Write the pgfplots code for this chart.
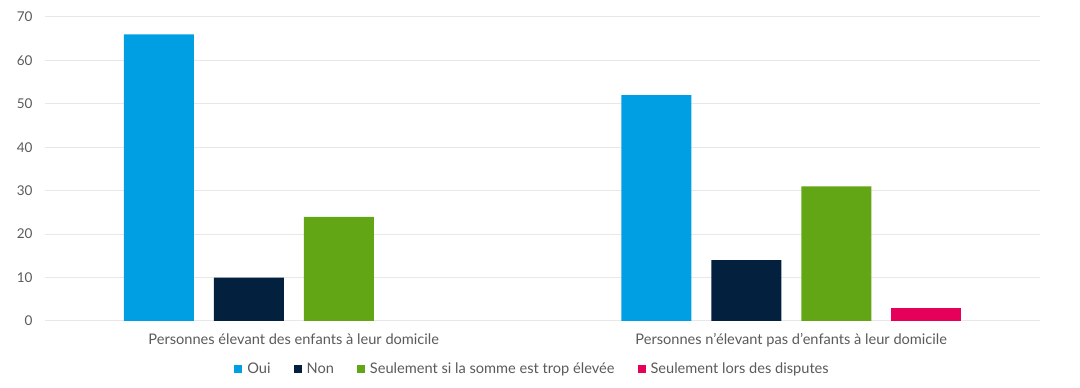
\documentclass[border=0pt]{standalone}
\usepackage{fontspec}
\setmainfont{Lato}
\usepackage{pgfplots}
\pgfplotsset{compat=1.18}
\definecolor{oui}{HTML}{009FE3}
\definecolor{non}{HTML}{03203E}
\definecolor{vert}{HTML}{62A515}
\definecolor{rose}{HTML}{E5005A}
\definecolor{txt}{HTML}{5A5A5A}
\definecolor{grd}{HTML}{E8E8E8}
\begin{document}
\begin{tikzpicture}[x=1pt,y=1pt]
\path[use as bounding box] (0,0) rectangle (1080,388);
\begin{axis}[
  at={(45pt,67pt)}, anchor=south west,
  scale only axis, width=995pt, height=304pt,
  xmin=-0.5, xmax=1.5, ymin=0, ymax=70,
  ybar=20pt, bar width=70pt,
  axis line style={draw=none},
  major tick length=0pt,
  ymajorgrids, grid style={color=grd, line width=1pt},
  ytick={0,10,...,70},
  xtick={0,1},
  xticklabels={Personnes élevant des enfants à leur domicile, Personnes n'élevant pas d'enfants à leur domicile},
  /pgf/number format/assume math mode=true,
  yticklabel style={anchor=east, xshift=-9pt, font=\fontsize{13.5}{15}\selectfont, text=txt},
  xticklabel style={yshift=-9pt, font=\fontsize{14.6}{16}\selectfont, text=txt},
  legend style={at={(0.49,-0.158)}, anchor=center, draw=none, fill=none,
    font=\fontsize{14.6}{16}\selectfont, text=txt, legend columns=-1,
    /tikz/every even column/.append style={column sep=21pt},
    /tikz/every odd column/.append style={column sep=3pt}},
  legend image code/.code={\fill[#1] (0pt,-4pt) rectangle (8pt,4pt);},
  every axis plot/.append style={draw=none},
]
\addplot[fill=oui] coordinates {(0,66) (1,52)};
\addplot[fill=non] coordinates {(0,10) (1,14)};
\addplot[fill=vert] coordinates {(0,24) (1,31)};
\addplot[fill=rose] coordinates {(1,3)};
\legend{Oui, Non, Seulement si la somme est trop élevée, Seulement lors des disputes}
\end{axis}
\end{tikzpicture}
\end{document}
